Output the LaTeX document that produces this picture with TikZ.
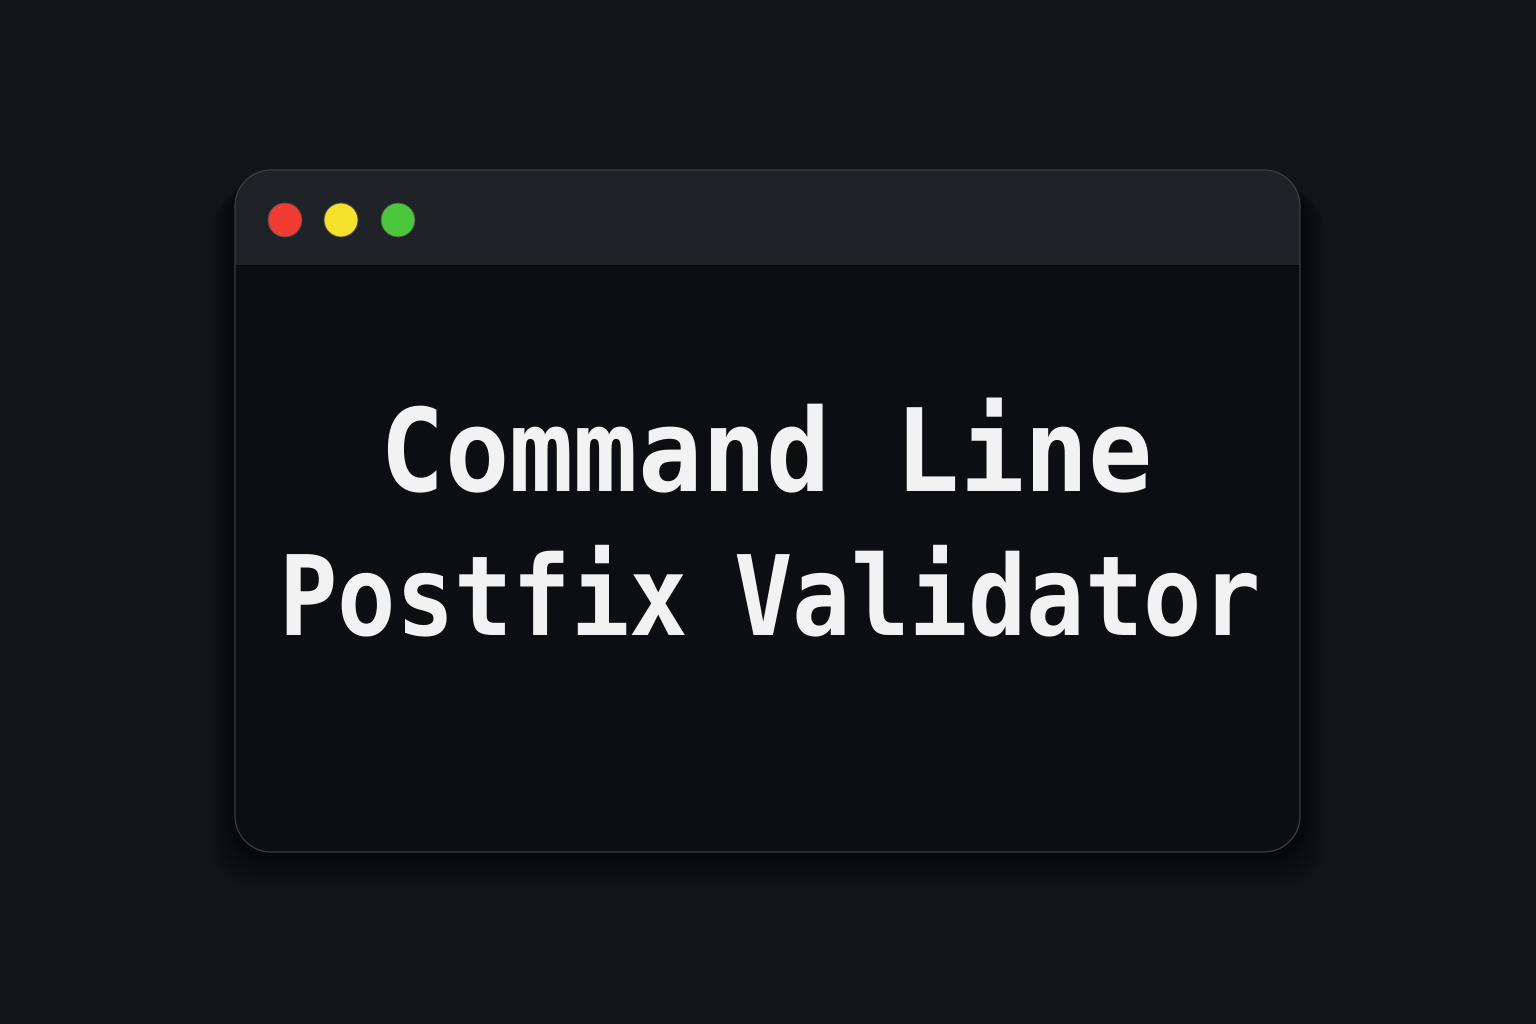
\documentclass[tikz,border=0pt]{standalone}
\usepackage{fontspec}
\usepackage{graphicx}
\newfontfamily\monob{DejaVu Sans Mono}
\definecolor{bgc}{HTML}{121518}
\definecolor{barc}{HTML}{1F2226}
\definecolor{bodyc}{HTML}{0C0E11}
\definecolor{edgec}{HTML}{3A3D42}
\definecolor{redc}{HTML}{F03C32}
\definecolor{yelc}{HTML}{F5E02A}
\definecolor{grnc}{HTML}{4CC63A}
\definecolor{txtc}{HTML}{F2F2F2}
\tikzset{
  dot/.style={circle, minimum size=34pt, inner sep=0pt, draw=black!70, line width=0.8pt},
  title/.style={text=txtc, font=\monob\bfseries\fontsize{115}{120}\selectfont, inner sep=0pt, anchor=base}
}
\begin{document}
\begin{tikzpicture}[x=1pt,y=-1pt]
\fill[bgc] (0,0) rectangle (1536,1024);
\useasboundingbox (0,0) rectangle (1536,1024);
% shadow
\foreach \i in {1,...,12}{
  \fill[black, opacity=0.035, rounded corners=40pt] (235-\i*2,172+\i*1.5) rectangle (1300+\i*2,852+\i*3);
}
% window
\fill[bodyc, rounded corners=36pt] (235,170) rectangle (1300,852);
\begin{scope}
\clip[rounded corners=36pt] (235,170) rectangle (1300,852);
\fill[barc] (235,170) rectangle (1300,266);
\draw[black!80!barc, line width=1pt] (235,266) -- (1300,266);
\end{scope}
\draw[edgec, line width=1.2pt, rounded corners=36pt] (235,170) rectangle (1300,852);
% dots
\node[dot, fill=redc] (r) at (285,220) {};
\node[dot, fill=yelc] (y) at (341,220) {};
\node[dot, fill=grnc] (g) at (398,220) {};
% text
\node[title] (l1) at (767,491) {\scalebox{0.93}[1]{Command Line}};
\node[title, font=\monob\bfseries\fontsize{111}{116}\selectfont] (l2) at (770,635) {\scalebox{0.875}[1]{Postfix \hspace{-14pt}Validator}};
\end{tikzpicture}
\end{document}
